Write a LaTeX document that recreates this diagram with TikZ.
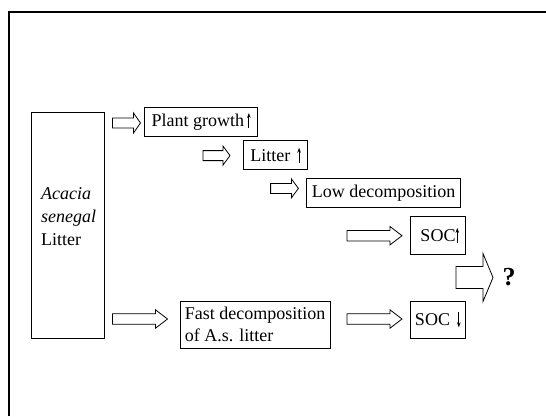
\documentclass[tikz,border=0pt]{standalone}
\usepackage{fontspec}
\setmainfont{Liberation Serif}
\usetikzlibrary{positioning,calc,arrows.meta}

\begin{document}
\begin{tikzpicture}[x=1pt,y=-1pt]
      \newcommand{\boxfont}[0]{\fontsize{18}{22}\selectfont}
      \newcommand{\uparr}[0]{\tikz[x=1pt,y=1pt,baseline=0pt] \draw [line width=0.9pt, -{Stealth[length=5pt,width=3.6pt]}] (0,-1.5) -- (0,13.5);}
      \newcommand{\downarr}[0]{\tikz[x=1pt,y=1pt,baseline=0pt] \draw [line width=0.9pt, -{Stealth[length=5pt,width=3.6pt]}] (0,13.5) -- (0,-1.5);}

      % hollow block arrow: start, tip, half shaft, half head, head length
      \newcommand{\hollowarrow}[5]{%
        \draw [hollow] let \p1 = (#1), \p2 = (#2) in
          (\x1,\y1+#3pt) -- (\x2-#5pt,\y1+#3pt) -- (\x2-#5pt,\y1+#4pt) -- (\x2,\y1)
          -- (\x2-#5pt,\y1-#4pt) -- (\x2-#5pt,\y1-#3pt) -- (\x1,\y1-#3pt) -- cycle;}

      \tikzstyle{box}    = [rectangle, draw, line width=0.8pt, inner sep=0pt, font=\boxfont]
      \tikzstyle{hollow} = [line width=0.8pt, line join=miter]

      \useasboundingbox (0,0) rectangle (546,416);
      \draw [line width=1.8pt] (9,416) -- (9,12) -- (546,12);

      \node [box, minimum width=72.7pt,  minimum height=226pt]                  (acacia)  at (67.6,225.5)  {};
      \node [box, minimum width=113.2pt, minimum height=29pt]                   (plant)   at (201.1,121.5) {Plant growth\hspace{3pt}\uparr};
      \node [box, minimum width=63.7pt,  minimum height=29pt]                   (litter)  at (275.6,155.2) {Litter\hspace{7pt}\uparr};
      \node [box, minimum width=153.9pt, minimum height=29pt]                   (low)     at (383.7,192.8) {Low decomposition};
      \node [box, minimum width=54.7pt,  minimum height=37.6pt]                 (socup)   at (437.8,235.4) {\hspace{4pt}SOC\uparr};
      \node [box, minimum width=149.6pt, minimum height=47pt, align=left]       (fast)    at (255.2,324.5) {Fast decomposition\\of A.s. litter};
      \node [box, minimum width=54.5pt,  minimum height=37.5pt]                 (socdown) at (437.8,319.8) {SOC\hspace{7pt}\downarr};

      \node [anchor=west, inner sep=0pt, align=left, font=\fontsize{18}{23}\selectfont] (acacialabel) at (41,217) {\textit{Acacia}\\\textit{senegal}\\Litter};
      \node [inner sep=0pt, font=\fontsize{26}{26}\selectfont\bfseries] (result) at (509,277.5) {?};

      \coordinate (a1s) at (112.5,123);   \coordinate (a1e) at (140.5,123);
      \coordinate (a2s) at (203,155.6);   \coordinate (a2e) at (230,155.6);
      \coordinate (a3s) at (270.6,188.4); \coordinate (a3e) at (298.4,188.4);
      \coordinate (a4s) at (347,235.7);   \coordinate (a4e) at (402,235.7);
      \coordinate (a5s) at (112.5,319);   \coordinate (a5e) at (167.5,319);
      \coordinate (a6s) at (347,319);     \coordinate (a6e) at (402,319);
      \coordinate (a7s) at (456,277.5);   \coordinate (a7e) at (493,277.5);

      \hollowarrow{a1s}{a1e}{5}{10}{7}
      \hollowarrow{a2s}{a2e}{5}{9.5}{7}
      \hollowarrow{a3s}{a3e}{5}{9.5}{7}
      \hollowarrow{a4s}{a4e}{5.2}{9.2}{12}
      \hollowarrow{a5s}{a5e}{5.2}{9.2}{12}
      \hollowarrow{a6s}{a6e}{5.2}{9.2}{12}
      \hollowarrow{a7s}{a7e}{11}{24}{10}
    \end{tikzpicture}
\end{document}
